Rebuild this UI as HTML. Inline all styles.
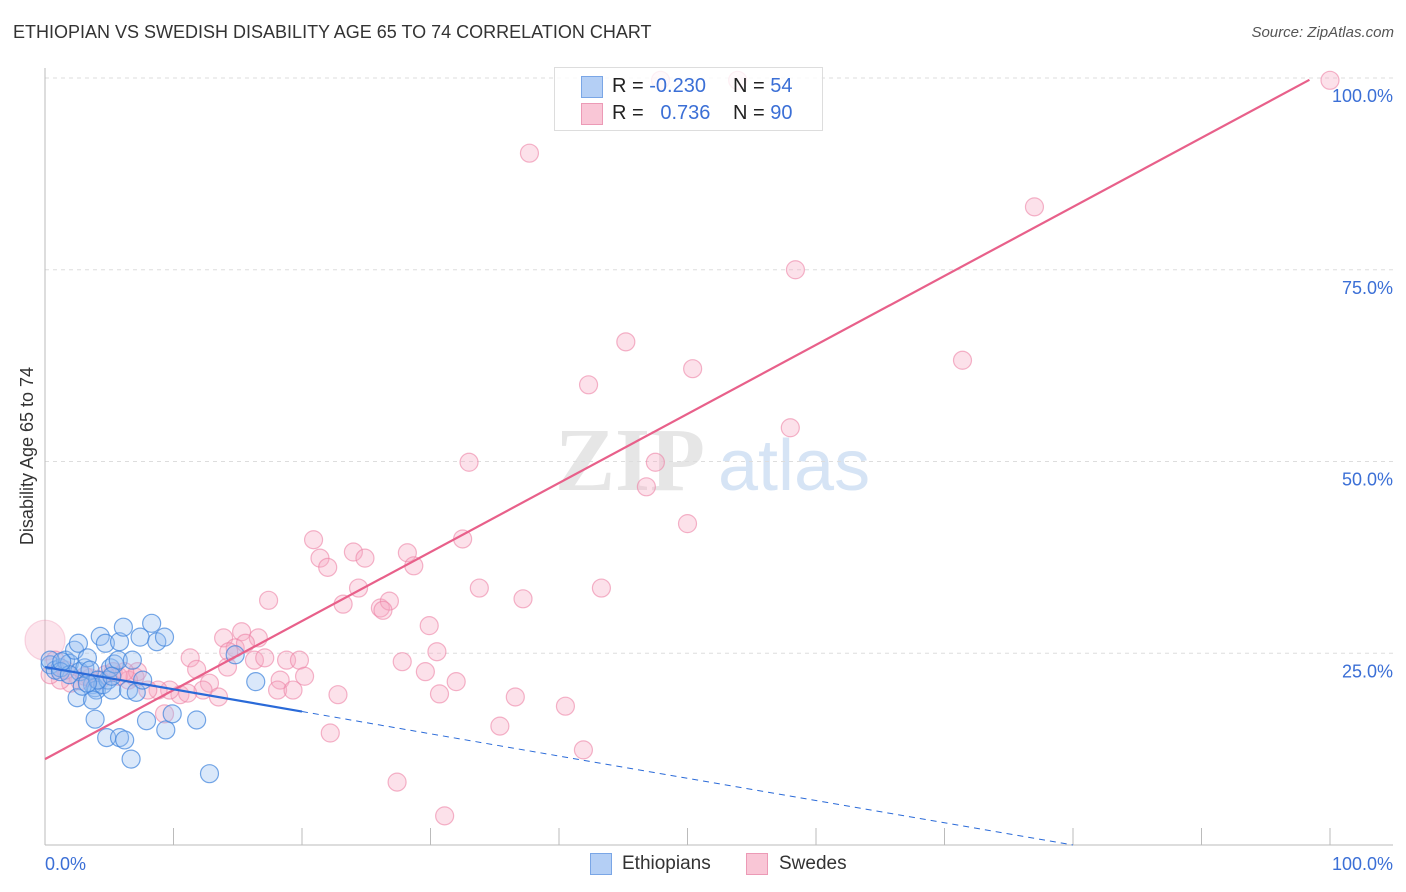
<!DOCTYPE html>
<html><head><meta charset="utf-8"><style>
body{margin:0;background:#fff;font-family:"Liberation Sans",sans-serif}
#wrap{position:relative;width:1406px;height:892px;overflow:hidden}
.t{position:absolute;white-space:nowrap}
</style></head><body>
<div id="wrap">
<div class="t" style="left:13px;top:22px;font-size:18px;color:#333">ETHIOPIAN VS SWEDISH DISABILITY AGE 65 TO 74 CORRELATION CHART</div>
<div class="t" style="right:12px;top:24px;font-size:15px;color:#555;font-style:italic">Source: ZipAtlas.com</div>
<svg id="svg" width="1406" height="892" style="position:absolute;left:0;top:0"></svg>
</div>
<script>
const blueX=[0.4,0.8,1.2,1.6,1.9,2.3,2.6,2.7,3.1,3.3,3.5,3.7,3.9,4.0,4.3,4.5,4.7,4.9,5.1,5.2,5.4,5.7,5.8,6.1,6.5,6.8,7.1,7.4,7.6,8.3,8.7,9.3,2.5,3.9,3.7,4.8,5.8,6.2,6.7,7.9,9.4,9.9,11.8,12.8,14.8,16.4,0.4,1.2,1.9,2.9,4.1,5.2,3.3,1.3];
const blueY=[23.5,22.8,23.1,24.1,23.7,25.4,26.3,22.6,23.1,24.4,22.8,20.9,20.5,20.2,27.2,20.9,26.3,21.5,23.1,20.2,23.6,24.1,26.5,28.4,20.2,24.1,19.9,27.1,21.5,28.9,26.5,27.1,19.2,16.4,18.9,14.0,14.0,13.7,11.2,16.2,15.0,17.1,16.3,9.3,24.8,21.3,24.1,22.6,22.2,20.7,21.5,22.0,21.1,23.9];
const pinkX=[100,47.9,53.9,37.7,77.0,58.4,45.2,71.4,42.3,50.4,58.0,33.0,47.5,46.8,50.0,32.5,20.9,21.4,22.0,24.0,24.9,28.2,28.7,24.4,33.8,43.3,17.4,23.2,26.1,26.8,26.3,37.2,29.9,13.9,15.3,16.6,14.8,15.6,30.5,11.3,16.3,18.8,19.8,14.2,11.8,20.2,18.3,27.8,29.6,32.0,22.8,30.7,36.6,40.5,35.4,22.2,41.9,27.4,31.1,18.1,19.3,12.8,13.5,12.3,10.5,9.7,8.8,8.0,9.3,7.0,6.5,5.7,5.3,4.7,4.3,3.5,2.7,2.0,1.2,0.4,0,0.8,1.6,7.2,6.2,11.1,17.1,14.3,3.1];
const pinkY=[99.7,99.7,99.7,90.2,83.2,75.0,65.6,63.2,60.0,62.1,54.4,49.9,49.9,46.7,41.9,39.9,39.8,37.4,36.2,38.2,37.4,38.1,36.4,33.5,33.5,33.5,31.9,31.4,30.9,31.8,30.6,32.1,28.6,27.0,27.8,27.0,25.7,26.3,25.2,24.4,24.1,24.1,24.1,23.2,22.9,22.0,21.5,23.9,22.6,21.3,19.6,19.7,19.3,18.1,15.5,14.6,12.4,8.2,3.8,20.2,20.2,21.1,19.3,20.2,19.6,20.2,20.2,20.2,17.1,21.9,21.5,22.0,22.6,22.2,21.5,21.8,21.4,21.1,21.5,22.2,26.7,24.1,22.8,22.6,22.6,19.8,24.4,25.2,22.0];
const yTicks=[25,50,75,100];
const yTickLabels=["25.0%","50.0%","75.0%","100.0%"];
const pinkFit=[11.2,0.9], blueFit=[23.2,-0.29];
const X=v=>45+v*12.85, Y=v=>845-v*7.67;
const svg=document.getElementById('svg');
const NS='http://www.w3.org/2000/svg';
function mk(tag,attrs,parent){const e=document.createElementNS(NS,tag);for(const k in attrs)e.setAttribute(k,attrs[k]);(parent||svg).appendChild(e);return e;}
let w=mk('text',{x:555,y:490,'font-size':90,fill:'#e6e6e6','font-family':'Liberation Serif, serif','font-weight':'bold'});w.textContent='ZIP';


w=mk('text',{x:718,y:490,'font-size':72,fill:'#d6e4f5','font-family':'Liberation Sans, sans-serif'});w.textContent='atlas';


yTicks.forEach((t,i)=>{
 const g=mk('line',{x1:45,x2:1393,y1:Y(t),y2:Y(t),stroke:'#ddd','stroke-dasharray':'4,4'});
 
 
 const l=mk('text',{x:1393,y:Y(t)+24,'text-anchor':'end','font-size':18,fill:'#3b6fd6'});l.textContent=yTickLabels[i];
 
 
});
let a=mk('line',{x1:45,x2:45,y1:68,y2:845,stroke:'#bbb'});


a=mk('line',{x1:45,x2:1393,y1:845,y2:845,stroke:'#bbb'});


for(let i=1;i<=10;i++){const tk=mk('line',{x1:X(i*10),x2:X(i*10),y1:828,y2:845,stroke:'#bbb'});
 
 }
let yt=mk('text',{x:0,y:0,'font-size':18,fill:'#333','text-anchor':'middle',transform:'translate(33,456) rotate(-90)'});yt.textContent='Disability Age 65 to 74';


let xl=mk('text',{x:45,y:870,'font-size':18,fill:'#3b6fd6'});xl.textContent='0.0%';


xl=mk('text',{x:1393,y:870,'font-size':18,fill:'#3b6fd6','text-anchor':'end'});xl.textContent='100.0%';


pinkX.forEach((x,i)=>{const big=x===0;const c=mk('circle',{cx:X(x),cy:Y(pinkY[i]),r:(big?20:9),fill:big?'rgba(246,170,195,0.3)':'rgba(246,170,195,0.35)',stroke:big?'rgba(236,130,165,0.3)':'rgba(236,130,165,0.6)','stroke-width':1.2});
 
 });
blueX.forEach((x,i)=>{const c=mk('circle',{cx:X(x),cy:Y(blueY[i]),r:9,fill:'rgba(150,190,240,0.35)',stroke:'rgba(60,130,220,0.7)','stroke-width':1.2});
 
 });
let tl=mk('line',{x1:X(0),y1:Y(pinkFit[0]),x2:X(98.4),y2:Y(pinkFit[0]+pinkFit[1]*98.4),stroke:'#e8608a','stroke-width':2.2});


tl=mk('line',{x1:X(0),y1:Y(blueFit[0]),x2:X(20),y2:Y(blueFit[0]+blueFit[1]*20),stroke:'#2a6ad8','stroke-width':2.2});


const xe=-blueFit[0]/blueFit[1];
tl=mk('line',{x1:X(20),y1:Y(blueFit[0]+blueFit[1]*20),x2:X(xe),y2:Y(0),stroke:'#2a6ad8','stroke-width':1,'stroke-dasharray':'6,5'});


</script>
<div class="t" style="left:554px;top:67px;width:267px;height:62px;border:1px solid #ddd;background:rgba(255,255,255,0.8)">
 <div class="t" style="left:26px;top:8px;width:20px;height:20px;background:#b4cff5;border:1px solid #7aa6e6"></div>
 <div class="t" style="left:57px;top:7px;font-size:20px;color:#222">R = <span style="color:#3b6fd6">-0.230</span></div>
 <div class="t" style="left:178px;top:7px;font-size:20px;color:#222">N = <span style="color:#3b6fd6">54</span></div>
 <div class="t" style="left:26px;top:35px;width:20px;height:20px;background:#f9c6d6;border:1px solid #ec9ab6"></div>
 <div class="t" style="left:57px;top:34px;font-size:20px;color:#222">R = &nbsp;&nbsp;<span style="color:#3b6fd6">0.736</span></div>
 <div class="t" style="left:178px;top:34px;font-size:20px;color:#222">N = <span style="color:#3b6fd6">90</span></div>
</div>
<div class="t" style="left:590px;top:853px;width:20px;height:20px;background:#b4cff5;border:1px solid #7aa6e6"></div>
<div class="t" style="left:622px;top:853px;font-size:19px;color:#333">Ethiopians</div>
<div class="t" style="left:746px;top:853px;width:20px;height:20px;background:#f9c6d6;border:1px solid #ec9ab6"></div>
<div class="t" style="left:779px;top:853px;font-size:19px;color:#333">Swedes</div>
</body></html>
